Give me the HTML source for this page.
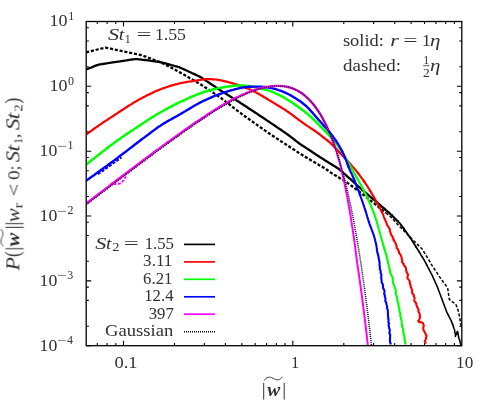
<!DOCTYPE html>
<html><head><meta charset="utf-8"><title>plot</title>
<style>html,body{margin:0;padding:0;background:#fff}svg{display:block}</style>
</head><body>
<svg width="494" height="402" viewBox="0 0 494 402">
<rect width="494" height="402" fill="#fff"/>
<defs><clipPath id="c"><rect x="86.2" y="21.5" width="375.6" height="324.7"/></clipPath></defs>
<g clip-path="url(#c)" fill="none" stroke-linejoin="round" stroke-linecap="butt">
<path d="M85.5,69.8 L85.8,69.7 L86.7,69.3 L87.9,68.8 L89.3,68.2 L91.0,67.6 L92.7,66.9 L94.3,66.2 L95.9,65.6 L97.2,65.1 L98.1,64.8 L98.6,64.6 L98.8,64.6 L99.2,64.5 L99.8,64.4 L100.5,64.3 L101.4,64.2 L102.5,64.0 L103.7,63.8 L105.0,63.6 L106.4,63.4 L107.9,63.2 L109.4,62.9 L111.1,62.7 L112.8,62.4 L114.5,62.1 L116.3,61.9 L118.0,61.6 L119.8,61.4 L121.5,61.1 L123.2,60.8 L124.8,60.6 L126.4,60.4 L127.9,60.1 L129.3,59.9 L130.7,59.7 L131.8,59.5 L132.9,59.4 L133.8,59.3 L134.6,59.2 L135.2,59.1 L135.6,59.0 L135.8,59.0 L136.1,59.0 L136.7,59.1 L137.6,59.2 L138.6,59.3 L139.9,59.4 L141.3,59.6 L142.9,59.8 L144.6,60.0 L146.3,60.2 L148.0,60.4 L149.8,60.7 L151.5,60.9 L153.1,61.1 L154.6,61.3 L156.1,61.5 L157.3,61.6 L158.4,61.8 L159.2,61.9 L159.7,62.0 L160.0,62.0 L160.3,62.1 L161.0,62.3 L162.0,62.5 L163.2,62.9 L164.7,63.2 L166.3,63.7 L168.0,64.1 L169.7,64.6 L171.5,65.1 L173.2,65.5 L174.7,66.0 L176.2,66.4 L177.4,66.7 L178.4,67.0 L179.1,67.2 L179.4,67.3 L179.7,67.4 L180.2,67.7 L181.0,68.0 L182.0,68.5 L183.2,69.0 L184.5,69.6 L186.0,70.3 L187.6,71.0 L189.1,71.7 L190.8,72.5 L192.3,73.2 L193.9,73.9 L195.4,74.6 L196.7,75.2 L197.9,75.8 L198.9,76.2 L199.7,76.6 L200.2,76.9 L200.5,77.0 L200.7,77.2 L201.3,77.5 L202.0,78.0 L202.9,78.6 L204.0,79.3 L205.2,80.2 L206.6,81.1 L208.0,82.0 L209.5,83.0 L210.9,84.0 L212.4,85.0 L213.8,85.9 L215.2,86.8 L216.4,87.6 L217.5,88.4 L218.4,89.0 L219.2,89.5 L219.7,89.8 L219.9,90.0 L220.1,90.2 L220.7,90.5 L221.4,91.0 L222.4,91.6 L223.5,92.3 L224.8,93.1 L226.2,93.9 L227.6,94.9 L229.2,95.8 L230.7,96.8 L232.2,97.7 L233.7,98.6 L235.1,99.5 L236.3,100.3 L237.5,101.0 L238.4,101.6 L239.2,102.1 L239.7,102.4 L240.0,102.6 L240.2,102.7 L240.6,103.0 L241.2,103.4 L242.0,103.9 L242.9,104.5 L244.0,105.2 L245.2,106.0 L246.5,106.8 L247.8,107.7 L249.2,108.7 L250.7,109.6 L252.1,110.6 L253.6,111.5 L255.1,112.5 L256.5,113.4 L257.8,114.3 L259.1,115.2 L260.3,115.9 L261.3,116.7 L262.3,117.3 L263.1,117.8 L263.7,118.2 L264.1,118.5 L264.3,118.6 L264.5,118.8 L265.0,119.1 L265.7,119.5 L266.5,120.1 L267.5,120.8 L268.7,121.6 L270.0,122.4 L271.3,123.4 L272.7,124.3 L274.2,125.3 L275.7,126.3 L277.2,127.4 L278.7,128.4 L280.1,129.3 L281.5,130.2 L282.7,131.1 L283.9,131.9 L284.9,132.5 L285.7,133.1 L286.4,133.6 L286.8,133.9 L287.0,134.0 L287.3,134.2 L288.0,134.7 L288.9,135.5 L290.1,136.3 L291.4,137.3 L292.8,138.4 L294.2,139.5 L295.6,140.6 L296.9,141.6 L298.1,142.5 L299.0,143.2 L299.7,143.7 L300.0,143.9 L300.2,144.1 L300.7,144.4 L301.4,144.9 L302.4,145.5 L303.5,146.2 L304.7,147.0 L306.0,147.9 L307.5,148.9 L308.9,149.8 L310.4,150.8 L311.9,151.8 L313.3,152.8 L314.6,153.6 L315.9,154.5 L317.0,155.2 L317.9,155.8 L318.7,156.3 L319.2,156.6 L319.4,156.8 L319.6,157.0 L320.2,157.3 L320.9,157.7 L321.8,158.3 L323.0,159.0 L324.2,159.8 L325.6,160.7 L327.0,161.5 L328.5,162.5 L330.0,163.4 L331.5,164.3 L332.9,165.2 L334.2,166.1 L335.5,166.8 L336.6,167.5 L337.5,168.1 L338.2,168.6 L338.7,168.9 L338.9,169.0 L339.3,169.3 L340.2,170.1 L341.3,171.1 L342.6,172.2 L343.8,173.3 L345.0,174.3 L345.8,175.0 L346.2,175.4 L346.4,175.6 L346.8,176.0 L347.5,176.6 L348.3,177.3 L349.3,178.2 L350.5,179.2 L351.7,180.3 L352.9,181.5 L354.2,182.7 L355.6,183.8 L356.8,185.0 L358.0,186.1 L359.2,187.1 L360.2,188.0 L361.0,188.8 L361.7,189.4 L362.2,189.8 L362.4,190.0 L362.6,190.2 L363.2,190.6 L363.9,191.3 L364.8,192.1 L365.9,193.0 L367.2,194.0 L368.5,195.1 L369.8,196.3 L371.2,197.5 L372.6,198.6 L373.9,199.7 L375.1,200.7 L376.2,201.7 L377.1,202.5 L377.9,203.1 L378.4,203.5 L378.6,203.7 L378.9,203.9 L379.4,204.4 L380.3,205.2 L381.3,206.1 L382.5,207.1 L383.8,208.2 L385.1,209.4 L386.4,210.5" stroke="#000" stroke-width="2.30"/>
<path d="M386.4,210.5 L387.7,211.7 L388.9,212.7 L389.9,213.6 L390.7,214.3 L391.3,214.8 L391.5,215.0 L391.8,215.3 L392.5,216.0" stroke="#000" stroke-width="2.24"/>
<path d="M391.3,214.8 L391.5,215.0 L391.8,215.3 L392.5,216.0 L393.5,217.0 L394.7,218.2 L396.0,219.5 L397.2,220.8 L398.4,221.9" stroke="#000" stroke-width="2.12"/>
<path d="M397.2,220.8 L398.4,221.9 L399.4,222.9 L400.1,223.7 L400.4,224.0 L400.6,224.3 L401.0,224.8 L401.6,225.6 L402.3,226.7 L403.2,227.9 L404.2,229.2" stroke="#000" stroke-width="2.01"/>
<path d="M403.2,227.9 L404.2,229.2 L405.2,230.6 L406.2,232.0 L407.2,233.4 L408.1,234.8 L409.0,236.0 L409.8,237.1 L410.4,237.9" stroke="#000" stroke-width="1.89"/>
<path d="M409.8,237.1 L410.4,237.9 L410.8,238.5 L411.0,238.8 L411.1,239.0 L411.5,239.5 L411.9,240.2 L412.5,241.2 L413.1,242.2 L413.9,243.5 L414.8,244.8 L415.6,246.3 L416.6,247.8" stroke="#000" stroke-width="1.77"/>
<path d="M415.6,246.3 L416.6,247.8 L417.5,249.3 L418.5,250.8 L419.4,252.3 L420.3,253.8 L421.1,255.1 L421.9,256.3 L422.6,257.4" stroke="#000" stroke-width="1.66"/>
<path d="M421.9,256.3 L422.6,257.4 L423.1,258.4 L423.6,259.1 L423.9,259.6 L424.0,259.8 L424.2,260.1 L424.5,260.8 L425.1,261.8 L425.7,263.0 L426.5,264.5 L427.3,266.0 L428.1,267.6 L428.9,269.1 L429.7,270.7 L430.5,272.1 L431.1,273.3 L431.6,274.2 L431.9,274.9 L432.1,275.2 L432.3,275.7 L432.8,276.7 L433.4,278.1 L434.2,279.8 L435.0,281.5 L435.7,283.1 L436.3,284.5 L436.8,285.5 L437.0,286.0 L437.1,286.4 L437.5,287.3 L438.0,288.5 L438.5,290.0 L439.2,291.7 L439.8,293.5 L440.5,295.1 L441.0,296.7 L441.5,297.9 L441.9,298.8 L442.0,299.2 L442.1,299.6 L442.5,300.5 L442.9,301.7 L443.5,303.2 L444.1,304.9 L444.7,306.6 L445.4,308.2 L445.9,309.7 L446.4,311.0 L446.7,311.8 L446.9,312.2 L447.0,312.6 L447.5,313.5 L448.2,314.8 L448.9,316.3 L449.8,317.9 L450.4,319.3 L451.2,320.6 L451.4,321.5 L451.7,321.9 L451.9,322.4 L452.2,323.6 L453.0,325.2 L453.4,326.9 L454.0,328.5 L454.5,329.7 L454.6,330.2 L454.7,330.9 L454.8,332.5 L455.5,334.3 L455.4,335.8 L455.4,336.4 L455.6,335.6 L456.5,333.9 L457.0,332.2 L457.4,331.4 L457.8,332.2 L458.1,334.1 L458.5,336.0 L458.7,337.0 L458.6,337.5 L459.1,338.8 L459.8,340.4 L460.1,342.2 L460.6,343.9 L461.0,345.1 L461.2,345.6" stroke="#000" stroke-width="1.60"/>
<path d="M86.1,52.3 L86.4,52.2 L87.0,52.1 L87.9,51.8 L89.2,51.5 L90.6,51.2 L92.2,50.8 L93.9,50.4 L95.6,50.0 L97.4,49.5 L99.1,49.1 L100.7,48.7 L102.2,48.4 L103.5,48.1 L104.5,47.9 L105.2,47.7 L105.6,47.7 L105.8,47.7 L106.2,47.8 L106.8,47.9 L107.6,48.1 L108.6,48.3 L109.7,48.5 L110.9,48.7 L112.2,49.0 L113.7,49.3 L115.2,49.6 L116.9,50.0 L118.5,50.3 L120.3,50.7 L122.0,51.0 L123.8,51.4 L125.6,51.8 L127.3,52.2 L129.0,52.5 L130.7,52.9 L132.3,53.2 L133.9,53.6 L135.3,53.9 L136.7,54.2 L137.9,54.4 L139.0,54.6 L140.0,54.9 L140.8,55.0 L141.4,55.2 L141.8,55.3 L142.0,55.3 L142.3,55.4 L143.0,55.6 L143.9,56.0 L145.0,56.4 L146.3,56.9 L147.8,57.5 L149.4,58.1 L151.0,58.7 L152.7,59.3 L154.4,60.0 L156.1,60.6 L157.6,61.2 L159.1,61.8 L160.4,62.3 L161.5,62.7 L162.3,63.1 L162.9,63.3 L163.2,63.4 L163.5,63.6 L164.1,63.9 L165.1,64.4 L166.2,65.0 L167.5,65.7 L169.0,66.5 L170.5,67.3 L172.1,68.1 L173.6,69.0 L175.1,69.8 L176.4,70.5 L177.5,71.1 L178.5,71.6 L179.1,71.9 L179.4,72.1 L179.6,72.2 L180.1,72.5 L180.8,72.9 L181.8,73.5 L182.9,74.1 L184.1,74.8 L185.5,75.6 L186.9,76.4 L188.4,77.3 L189.9,78.2 L191.5,79.1 L193.0,79.9 L194.4,80.8 L195.8,81.5 L197.0,82.3 L198.1,82.9 L199.0,83.4 L199.8,83.9 L200.3,84.2 L200.5,84.3 L200.7,84.5 L201.3,84.8 L202.0,85.3 L202.9,85.9 L204.0,86.6 L205.2,87.4 L206.6,88.3 L208.0,89.3 L209.5,90.2 L210.9,91.2 L212.4,92.2 L213.8,93.1 L215.2,94.0 L216.4,94.9 L217.5,95.6 L218.4,96.2 L219.2,96.7 L219.7,97.0 L219.9,97.2 L220.1,97.4 L220.6,97.7 L221.2,98.2 L222.0,98.8 L223.0,99.6 L224.1,100.4 L225.3,101.3 L226.6,102.3 L227.9,103.4 L229.3,104.4 L230.7,105.5 L232.0,106.6 L233.4,107.6 L234.7,108.6 L235.9,109.5 L237.0,110.4 L237.9,111.1 L238.7,111.7 L239.4,112.2 L239.8,112.5 L240.0,112.7 L240.3,112.9 L240.8,113.3 L241.7,113.9 L242.7,114.7 L243.9,115.5 L245.3,116.5 L246.7,117.5 L248.1,118.5 L249.6,119.6 L251.0,120.6 L252.3,121.5 L253.5,122.4 L254.6,123.1 L255.4,123.7 L255.9,124.1 L256.2,124.3 L256.5,124.5 L257.1,124.9 L257.9,125.5 L259.0,126.3 L260.3,127.2 L261.6,128.1 L263.0,129.1 L264.4,130.1 L265.8,131.0 L267.0,131.9 L268.1,132.7 L269.0,133.3 L269.7,133.8 L270.0,134.0 L270.2,134.1 L270.5,134.3 L271.1,134.7 L271.7,135.1 L272.6,135.7 L273.5,136.3 L274.6,137.0 L275.8,137.8 L277.0,138.6 L278.4,139.5 L279.8,140.4 L281.2,141.4 L282.7,142.3 L284.2,143.3 L285.7,144.3 L287.2,145.3 L288.7,146.2 L290.2,147.2 L291.6,148.1 L292.9,149.0 L294.2,149.8 L295.4,150.6 L296.5,151.3 L297.4,151.9 L298.2,152.5 L298.9,152.9 L299.5,153.3 L299.8,153.5 L300.0,153.6 L300.3,153.8 L301.0,154.2 L301.9,154.8 L303.1,155.5 L304.4,156.3 L305.9,157.2 L307.4,158.1 L309.0,159.0 L310.5,159.9 L312.0,160.8 L313.3,161.6 L314.4,162.2 L315.3,162.8 L315.9,163.1 L316.2,163.3 L316.6,163.6 L317.6,164.1 L318.9,164.9 L320.3,165.7 L321.9,166.6 L323.4,167.5 L324.6,168.3 L325.5,168.8 L325.9,169.0 L326.6,169.5 L327.9,170.5 L329.2,171.5 L330.0,172.1 L330.3,172.3 L330.9,172.6 L331.8,173.2 L332.9,173.9 L334.2,174.7 L335.7,175.5 L337.2,176.5 L338.8,177.4 L340.4,178.4 L341.8,179.2 L343.2,180.1 L344.3,180.8 L345.3,181.3 L345.9,181.7 L346.2,181.9 L346.5,182.1 L347.0,182.5 L347.8,183.1 L348.9,183.9 L350.1,184.8 L351.4,185.8 L352.8,186.8 L354.3,187.9 L355.8,189.0 L357.2,190.1 L358.5,191.1 L359.7,192.0 L360.8,192.8 L361.6,193.4 L362.1,193.8 L362.4,194.0 L362.6,194.2 L363.2,194.6 L363.9,195.2 L364.8,195.9 L365.9,196.8 L367.2,197.8 L368.5,198.9 L369.8,200.0 L371.2,201.1 L372.6,202.2 L373.9,203.2 L375.1,204.2 L376.2,205.1 L377.1,205.8 L377.9,206.4 L378.4,206.8 L378.6,207.0 L378.9,207.2 L379.6,207.8 L380.5,208.5 L381.7,209.5 L383.0,210.6 L384.4,211.7 L385.8,212.9" stroke="#000" stroke-width="2.30" stroke-dasharray="3.1,1.8"/>
<path d="M385.8,212.9 L387.2,214.0 L388.5,215.1 L389.7,216.0 L390.6,216.8 L391.2,217.3 L391.5,217.5 L391.9,217.9 L392.7,218.9 L393.8,220.1 L394.9,221.4 L396.0,222.6 L396.8,223.6 L397.2,224.0 L397.4,224.2 L397.9,224.7 L398.6,225.4 L399.5,226.4 L400.6,227.4 L401.7,228.6 L402.9,229.8 L404.2,231.1 L405.4,232.3 L406.6,233.5 L407.6,234.6 L408.5,235.5 L409.3,236.3 L409.8,236.8 L410.0,237.0 L410.3,237.3 L410.8,237.8 L411.6,238.6 L412.6,239.5 L413.7,240.7 L414.9,241.9 L416.2,243.1 L417.5,244.4 L418.7,245.6 L419.9,246.7 L420.8,247.7 L421.6,248.5 L422.2,249.0 L422.4,249.3 L422.6,249.6 L423.0,250.2 L423.5,251.1 L424.2,252.3 L425.0,253.6 L425.9,255.1 L426.8,256.6 L427.7,258.2 L428.7,259.7 L429.5,261.2 L430.3,262.5 L431.0,263.7 L431.5,264.6 L431.9,265.2 L432.1,265.5 L432.3,265.8 L432.7,266.4 L433.3,267.4 L434.1,268.5 L435.0,269.9 L436.0,271.3 L437.0,272.8 L438.0,274.3 L438.9,275.7 L439.8,277.1 L440.6,278.2 L441.2,279.1 L441.6,279.7 L441.8,280.0 L442.1,280.4 L442.8,281.3 L443.7,282.6 L444.8,284.0 L445.8,285.4 L446.7,286.6 L447.3,287.5 L447.6,287.9 L447.7,288.4 L447.9,289.4 L448.1,290.9 L448.3,292.7 L448.6,294.5 L448.9,296.2 L449.1,297.7 L449.2,298.8 L449.3,299.2 L450.5,300.5 L451.7,301.6 L452.8,302.2 L454.6,303.3 L455.7,304.0 L456.0,304.7 L456.6,306.3 L457.3,308.2 L457.9,309.7 L458.2,310.5 L458.3,311.1 L458.6,312.4 L459.0,314.2 L459.4,315.9 L459.7,317.2 L459.8,317.8 L459.9,318.8 L460.2,320.7 L460.5,322.6 L460.6,323.5 L460.9,324.5 L461.5,326.1 L461.8,327.0" stroke="#000" stroke-width="1.50" stroke-dasharray="3.1,1.8"/>
<path d="M86.1,134.6 L86.7,134.2 L87.4,133.7 L88.2,133.1 L89.1,132.4 L90.0,131.7 L91.1,131.0 L92.2,130.2 L93.3,129.3 L94.5,128.5 L95.6,127.7 L96.8,126.9 L97.9,126.1 L99.0,125.3 L100.0,124.6 L101.1,123.9 L102.2,123.1 L103.4,122.3 L104.5,121.6 L105.7,120.8 L106.9,120.1 L108.0,119.3 L109.1,118.6 L110.2,117.9 L111.2,117.2 L112.2,116.6 L113.1,116.0 L113.9,115.5 L115.2,114.6 L116.1,114.0 L116.7,113.6 L117.5,113.1 L118.5,112.4 L120.2,111.3 L120.9,110.8 L121.7,110.3 L122.6,109.8 L123.5,109.2 L124.5,108.5 L125.5,107.9 L126.5,107.2 L127.6,106.5 L128.7,105.8 L129.8,105.1 L131.0,104.4 L132.1,103.7 L133.3,102.9 L134.4,102.2 L135.6,101.5 L136.7,100.9 L137.9,100.2 L139.0,99.6 L140.1,99.0 L141.1,98.4 L142.2,97.9 L143.3,97.3 L144.4,96.7 L145.5,96.2 L146.6,95.6 L147.8,95.0 L148.9,94.5 L150.0,93.9 L151.2,93.4 L152.3,92.9 L153.4,92.3 L154.5,91.8 L155.6,91.3 L156.8,90.8 L157.8,90.4 L158.9,89.9 L160.0,89.5 L161.3,89.0 L162.5,88.5 L163.7,88.1 L164.9,87.7 L166.1,87.2 L167.3,86.8 L168.5,86.5 L169.7,86.1 L170.9,85.7 L172.1,85.4 L173.3,85.1 L174.5,84.7 L175.7,84.4 L176.9,84.1 L178.1,83.8 L179.4,83.5 L180.6,83.2 L181.9,82.9 L183.2,82.7 L184.6,82.4 L185.9,82.2 L187.3,81.9 L188.7,81.7 L190.1,81.5 L191.4,81.3 L192.8,81.1 L194.1,80.9 L195.3,80.7 L196.5,80.5 L197.6,80.3 L198.7,80.2 L199.6,80.0 L200.5,79.9 L202.6,79.5 L203.8,79.3 L204.6,79.1 L205.5,79.1 L207.0,79.1 L208.0,79.1 L209.1,79.1 L210.2,79.2 L211.4,79.2 L212.6,79.3 L213.9,79.4 L215.3,79.5 L216.8,79.7 L218.3,79.9 L219.9,80.2 L220.9,80.4 L222.0,80.6 L223.1,80.9 L224.2,81.1 L225.4,81.4 L226.6,81.7 L227.9,82.0 L229.1,82.4 L230.4,82.7 L231.6,83.0 L232.9,83.4 L234.2,83.8 L235.4,84.1 L236.6,84.5 L237.8,84.9 L238.9,85.2 L240.0,85.6 L241.3,86.0 L242.5,86.5 L243.7,86.9 L244.9,87.4 L246.1,87.9 L247.2,88.4 L248.3,88.8 L249.5,89.3 L250.6,89.8 L251.7,90.4 L252.8,90.9 L253.9,91.5 L255.1,92.0 L256.2,92.6 L257.3,93.2 L258.4,93.8 L259.6,94.4 L260.7,95.1 L261.9,95.8 L263.1,96.5 L264.3,97.2 L265.4,97.8 L266.5,98.5 L267.6,99.2 L268.7,99.9 L269.7,100.5 L270.7,101.1 L271.6,101.6 L272.4,102.1 L273.9,103.0 L275.2,103.7 L276.2,104.4 L277.1,104.9 L278.0,105.5 L278.9,106.0 L280.0,106.7 L281.0,107.3 L281.9,107.9 L282.8,108.4 L283.8,109.0 L284.8,109.7 L285.9,110.4 L287.1,111.3 L288.6,112.3 L289.4,112.9 L290.3,113.5 L291.3,114.2 L292.3,114.9 L293.3,115.7 L294.4,116.5 L295.5,117.3 L296.6,118.1 L297.7,119.0 L298.8,119.8 L299.9,120.6 L301.0,121.4 L302.0,122.1 L303.0,122.9 L304.0,123.6 L304.9,124.2 L306.1,125.1 L307.3,125.9 L308.5,126.6 L309.6,127.4 L310.6,128.1 L311.6,128.8 L312.6,129.4 L313.6,130.0 L314.5,130.6 L315.4,131.2 L316.2,131.8 L317.4,132.7 L318.5,133.5 L319.4,134.2 L320.3,134.9 L321.2,135.6 L322.1,136.3 L323.0,137.0 L324.0,137.8 L325.0,138.5 L325.9,139.3 L326.9,140.0 L327.9,140.8 L328.9,141.6 L329.8,142.4 L330.7,143.2 L331.6,144.1 L332.5,145.0 L333.4,145.9 L334.3,146.8" stroke="#ff0000" stroke-width="2.25"/>
<path d="M333.4,145.9 L334.3,146.8 L335.1,147.7 L336.0,148.6 L336.9,149.5 L337.7,150.5 L338.6,151.4 L339.5,152.4 L340.3,153.4" stroke="#ff0000" stroke-width="2.24"/>
<path d="M339.5,152.4 L340.3,153.4 L341.2,154.3 L342.1,155.3 L343.0,156.2 L343.9,157.2 L344.8,158.1 L345.8,159.0 L346.7,160.0" stroke="#ff0000" stroke-width="2.21"/>
<path d="M345.8,159.0 L346.7,160.0 L347.6,161.0 L348.6,162.0 L349.4,162.9 L350.3,163.9 L351.2,164.9 L352.0,165.9" stroke="#ff0000" stroke-width="2.19"/>
<path d="M352.0,165.9 L352.9,166.9 L353.8,167.9 L354.6,168.9 L355.5,170.0 L356.3,171.0 L357.1,172.0 L357.9,173.0 L358.7,174.0" stroke="#ff0000" stroke-width="2.16"/>
<path d="M357.9,173.0 L358.7,174.0 L359.5,175.0 L360.2,176.1 L361.0,177.1 L361.7,178.1 L362.4,179.0 L363.2,180.2 L364.0,181.3 L364.7,182.3" stroke="#ff0000" stroke-width="2.14"/>
<path d="M363.2,180.2 L364.0,181.3 L364.7,182.3 L365.4,183.4 L366.1,184.4 L366.8,185.4 L367.5,186.5 L368.2,187.6 L368.8,188.6 L369.5,189.7 L370.1,190.7 L370.8,191.8" stroke="#ff0000" stroke-width="2.11"/>
<path d="M369.5,189.7 L370.1,190.7 L370.8,191.8 L371.4,192.9 L372.1,194.0 L372.7,195.0 L373.3,196.1 L373.9,197.1 L374.5,198.2 L375.2,199.3 L375.8,200.4 L376.4,201.5 L377.0,202.6 L377.6,203.7 L378.2,204.9 L378.8,206.0 L379.4,207.1 L380.0,208.3 L380.6,209.5 L381.2,210.7 L381.8,211.9 L382.4,213.0 L382.8,214.0 L383.3,215.0 L383.6,216.0 L383.9,217.1 L384.4,218.2 L385.1,219.4 L385.4,220.7 L386.3,222.2 L386.6,223.2 L386.9,224.2 L387.2,225.3 L388.2,226.5 L388.9,227.7 L389.6,228.9 L390.0,230.2 L390.0,231.5 L390.5,232.7 L391.1,234.0 L391.3,235.2 L392.5,236.3 L392.7,237.4 L392.8,238.5 L393.8,239.4 L393.8,240.8 L395.1,242.1 L395.5,243.2 L396.0,244.2 L396.2,245.2 L396.7,246.2 L396.7,247.2 L396.7,248.2 L398.1,249.3 L398.2,250.5 L399.1,251.7 L399.0,253.0 L400.2,254.3 L400.9,255.5 L401.3,256.8 L401.7,258.1 L401.8,259.3 L402.3,260.5 L402.0,261.8 L402.7,263.0 L403.8,264.2 L403.8,265.3 L405.0,266.5 L405.9,267.7 L406.0,268.9 L406.2,270.3 L406.5,271.5 L406.8,272.8 L407.9,274.1 L407.9,275.5 L407.5,277.0 L407.5,278.3 L408.6,279.7 L409.6,280.9 L409.7,282.0 L409.8,283.0 L410.2,284.7 L410.8,285.6 L410.6,286.5 L411.3,287.9 L411.6,288.9 L412.1,290.0 L412.0,291.2 L412.1,292.4 L412.6,293.8 L413.9,295.1 L414.0,296.4 L414.5,297.6 L414.5,298.8 L414.4,300.0 L414.4,301.2 L415.6,302.4 L416.3,303.6 L416.3,304.8 L416.9,306.0 L417.3,307.3 L418.0,308.6 L418.6,310.0 L418.4,311.5 L419.2,312.9 L419.8,314.3 L419.7,315.6 L420.1,316.8 L419.8,317.8 L419.2,319.8 L418.2,321.0 L418.9,321.9 L419.3,322.2 L420.4,322.1 L422.5,322.7 L423.3,323.6 L423.4,324.7 L423.9,326.1 L423.2,327.5 L423.3,328.8 L423.5,330.0 L424.4,331.5 L425.1,332.9 L425.6,334.1 L426.2,335.1 L426.5,336.1 L426.2,337.3 L426.0,338.4 L425.5,339.9 L424.9,341.4 L425.6,342.8 L425.3,343.7" stroke="#ff0000" stroke-width="2.10"/>
<path d="M85.5,165.2 L86.0,164.8 L86.6,164.4 L87.2,163.9 L87.9,163.3 L88.6,162.8 L89.3,162.1 L90.1,161.5 L91.0,160.8 L91.9,160.1 L92.8,159.4 L93.8,158.6 L94.7,157.8 L95.8,157.0 L96.8,156.2 L97.8,155.4 L98.9,154.5 L100.0,153.7 L101.1,152.8 L102.2,151.9 L103.3,151.1 L104.4,150.2 L105.5,149.4 L106.6,148.5 L107.7,147.7 L108.8,146.8 L109.8,146.0 L110.9,145.2 L111.9,144.5 L112.9,143.7 L113.9,143.0 L114.9,142.3 L115.9,141.6 L116.9,140.9 L117.9,140.1 L118.9,139.4 L120.0,138.7 L121.0,137.9 L122.1,137.2 L123.2,136.5 L124.2,135.7 L125.3,135.0 L126.4,134.3 L127.4,133.6 L128.5,132.9 L129.6,132.1 L130.6,131.4 L131.7,130.8 L132.7,130.1 L133.7,129.4 L134.7,128.7 L135.7,128.1 L136.7,127.4 L137.6,126.8 L138.6,126.2 L139.5,125.6 L140.4,125.0 L141.3,124.4 L142.1,123.9 L142.9,123.3 L143.7,122.8 L145.1,121.9 L146.4,121.0 L147.5,120.3 L148.7,119.5 L149.7,118.9 L150.7,118.2 L151.6,117.6 L152.5,117.1 L153.4,116.5 L154.3,116.0 L155.1,115.5 L156.0,114.9 L156.9,114.4 L157.9,113.8 L158.9,113.2 L160.0,112.6 L161.0,112.0 L162.0,111.5 L163.0,110.9 L164.1,110.3 L165.1,109.7 L166.2,109.2 L167.2,108.6 L168.3,108.0 L169.4,107.4 L170.5,106.9 L171.6,106.3 L172.7,105.7 L173.8,105.2 L174.9,104.6 L176.0,104.0 L177.2,103.5 L178.3,102.9 L179.4,102.4 L180.5,101.9 L181.6,101.4 L182.7,100.9 L183.8,100.3 L184.9,99.8 L186.0,99.3 L187.1,98.8 L188.3,98.3 L189.4,97.7 L190.5,97.2 L191.6,96.7 L192.8,96.3 L193.9,95.8 L195.0,95.3 L196.1,94.9 L197.2,94.4 L198.3,94.0 L199.4,93.6 L200.5,93.2 L201.8,92.8 L203.0,92.3 L204.2,91.9 L205.5,91.5 L206.7,91.2 L207.9,90.8 L209.1,90.5 L210.3,90.1 L211.5,89.8 L212.6,89.5 L213.8,89.2 L215.0,88.9 L216.2,88.7 L217.5,88.4 L218.7,88.1 L219.9,87.9 L221.1,87.7 L222.4,87.4 L223.7,87.2 L225.0,87.0 L226.3,86.8 L227.6,86.6 L228.9,86.4 L230.1,86.2 L231.4,86.1 L232.7,86.0 L234.0,85.8 L235.2,85.7 L236.5,85.6 L237.7,85.6 L238.8,85.5 L240.0,85.5 L241.4,85.5 L242.7,85.5 L244.0,85.6 L245.3,85.7 L246.5,85.8 L247.7,86.0 L248.9,86.2 L250.1,86.4 L251.3,86.6 L252.5,86.8 L253.7,87.0 L255.0,87.3 L256.2,87.5 L257.4,87.7 L258.7,88.0 L259.9,88.3 L261.2,88.5 L262.4,88.8 L263.7,89.1 L264.9,89.5 L266.2,89.8 L267.4,90.2 L268.7,90.6 L269.9,91.0 L271.2,91.4 L272.4,91.9 L273.5,92.3 L274.6,92.8 L275.6,93.3 L276.7,93.8 L277.8,94.3 L278.9,94.8 L280.0,95.4 L281.0,95.9 L282.1,96.5 L283.2,97.1 L284.3,97.7 L285.4,98.4 L286.4,99.0 L287.5,99.6 L288.6,100.3 L289.6,100.9 L290.7,101.6 L291.7,102.3 L292.8,103.0 L293.8,103.7 L294.9,104.4 L295.9,105.2 L297.0,105.9 L298.0,106.7 L299.1,107.4 L300.1,108.2 L301.1,108.9 L302.1,109.7 L303.0,110.4 L303.9,111.1 L304.8,111.8 L305.9,112.7 L306.9,113.5 L307.9,114.3 L308.8,115.0 L309.6,115.8 L310.5,116.6 L311.4,117.3 L312.2,118.1 L313.1,119.0 L314.1,119.9 L315.1,120.9 L316.2,122.0 L316.9,122.7 L317.7,123.5 L318.6,124.3 L319.4,125.2 L320.3,126.1 L321.2,127.0 L322.1,127.9 L323.0,128.9 L323.9,129.8 L324.9,130.8 L325.8,131.8 L326.7,132.7 L327.6,133.7" stroke="#00ff00" stroke-width="2.50"/>
<path d="M326.7,132.7 L327.6,133.7 L328.5,134.6 L329.3,135.6 L330.2,136.5 L330.9,137.3 L331.7,138.2 L332.4,139.0 L333.4,140.1" stroke="#00ff00" stroke-width="2.47"/>
<path d="M332.4,139.0 L333.4,140.1 L334.3,141.2 L335.1,142.2 L335.9,143.2 L336.6,144.1 L337.3,145.0 L338.0,146.0 L338.7,146.9 L339.3,147.8" stroke="#00ff00" stroke-width="2.40"/>
<path d="M338.7,146.9 L339.3,147.8 L340.0,148.8 L340.7,149.8 L341.4,150.9 L342.1,152.0 L342.7,153.0 L343.4,154.0 L344.0,155.1 L344.7,156.2 L345.3,157.3" stroke="#00ff00" stroke-width="2.33"/>
<path d="M344.7,156.2 L345.3,157.3 L346.0,158.5 L346.6,159.7 L347.3,160.9 L347.9,162.0 L348.6,163.2 L349.2,164.3 L349.8,165.3 L350.3,166.4 L350.9,167.3 L351.3,168.2 L351.8,169.0" stroke="#00ff00" stroke-width="2.27"/>
<path d="M350.3,166.4 L350.9,167.3 L351.3,168.2 L351.8,169.0 L352.8,170.7 L353.4,171.8 L353.9,172.7 L354.4,173.5 L355.0,174.6 L355.9,176.2 L356.4,177.0 L356.9,177.9 L357.4,178.9" stroke="#00ff00" stroke-width="2.20"/>
<path d="M356.4,177.0 L356.9,177.9 L357.4,178.9 L358.0,179.9 L358.6,180.9 L359.2,182.0 L359.8,183.2 L360.5,184.3 L361.1,185.5 L361.8,186.7 L362.4,187.8 L363.0,189.0 L363.7,190.2" stroke="#00ff00" stroke-width="2.13"/>
<path d="M362.4,187.8 L363.0,189.0 L363.7,190.2 L364.2,191.3 L364.8,192.4 L365.4,193.6 L366.0,194.7 L366.5,195.9 L367.1,197.1 L367.6,198.3 L368.2,199.5 L368.7,200.7 L369.3,201.9 L369.8,203.1 L370.3,204.2 L370.8,205.4 L371.2,206.5 L371.7,207.6 L372.1,208.6 L372.6,209.9 L373.1,211.1 L373.6,212.3 L374.0,213.3 L374.4,214.4 L374.7,215.4 L375.1,216.6 L375.5,217.9 L376.0,219.3 L376.5,221.0 L376.8,221.9 L377.1,222.9 L377.4,223.9 L377.7,225.0 L378.0,226.1 L378.3,227.3 L378.7,228.5 L379.0,229.7 L379.3,231.0 L379.7,232.2 L380.0,233.5 L380.4,234.7 L380.7,236.0 L381.1,237.3 L381.4,238.5 L381.8,239.7 L382.0,240.9 L382.5,242.1 L382.7,243.2 L383.1,244.3 L383.5,245.6 L383.9,246.9 L384.2,248.2 L384.5,249.4 L384.9,250.6 L385.3,251.8 L385.8,253.0 L386.0,254.2 L386.6,255.4 L386.5,256.5 L387.1,257.7 L387.3,258.9 L387.4,260.1 L388.0,261.3 L388.0,262.5 L388.3,263.7 L388.7,264.9 L388.9,266.0 L389.1,267.2 L389.2,268.4 L390.1,269.6 L390.1,270.8 L390.2,272.0 L390.3,273.2 L391.3,274.4 L391.6,275.6 L392.2,276.8 L392.8,278.0 L392.8,279.2 L392.8,280.4 L392.9,281.6 L393.0,282.8 L393.4,284.0 L394.2,285.2 L394.3,286.4 L394.7,287.5 L395.3,288.7 L395.6,289.9 L395.8,291.0 L395.9,292.2 L395.6,293.4 L395.9,294.5 L396.6,295.7 L396.7,296.9 L397.2,298.0 L397.1,299.2 L397.5,300.4 L397.5,301.6 L398.2,302.8 L398.7,304.0 L398.3,305.2 L398.8,306.4 L398.7,307.7 L399.5,308.9 L399.4,310.2 L399.3,311.4 L400.2,312.7 L400.5,314.0 L400.1,315.2 L400.5,316.5 L401.2,317.7 L401.0,319.0 L401.6,320.2 L401.5,321.5 L401.7,322.7 L401.9,323.9 L401.8,325.1 L402.1,326.4 L402.6,327.7 L403.0,329.1 L403.3,330.5 L403.2,331.9 L403.7,333.4 L403.7,334.7 L404.5,336.1 L404.2,337.4 L404.8,338.7 L404.5,339.9 L404.9,341.1 L405.0,342.1 L405.2,343.0 L405.6,343.8 L406.0,344.5" stroke="#00ff00" stroke-width="2.10"/>
<path d="M85.5,181.2 L86.1,180.8 L86.8,180.2 L87.7,179.6 L88.6,179.0 L89.6,178.2 L90.7,177.4 L91.9,176.6 L93.1,175.7 L94.3,174.9 L95.5,174.0 L96.7,173.1 L97.8,172.3 L98.9,171.5 L100.0,170.7 L101.0,170.0 L102.0,169.3 L102.9,168.6 L103.9,167.9 L104.8,167.2 L105.8,166.6 L106.7,165.9 L107.7,165.2 L108.6,164.5 L109.6,163.8 L110.6,163.0 L111.7,162.2 L112.8,161.4 L113.9,160.6 L114.8,159.9 L115.7,159.3 L116.6,158.6 L117.6,157.8 L118.5,157.1 L119.5,156.3 L120.5,155.6 L121.5,154.8 L122.6,154.0 L123.6,153.2 L124.6,152.4 L125.7,151.7 L126.7,150.9 L127.7,150.1 L128.7,149.4 L129.6,148.6 L130.6,147.9 L131.5,147.2 L132.4,146.5 L133.5,145.7 L134.6,144.8 L135.6,144.1 L136.6,143.3 L137.6,142.5 L138.6,141.7 L139.6,141.0 L140.6,140.3 L141.5,139.5 L142.5,138.8 L143.4,138.1 L144.4,137.4 L145.3,136.7 L146.3,135.9 L147.3,135.2 L148.3,134.5 L149.3,133.7 L150.2,133.0 L151.2,132.3 L152.2,131.6 L153.1,130.9 L154.1,130.1 L155.1,129.4 L156.0,128.7 L157.0,128.0 L158.0,127.3 L159.0,126.6 L160.1,125.9 L161.1,125.2 L162.2,124.5 L163.2,123.9 L164.1,123.3 L165.1,122.7 L166.1,122.1 L167.1,121.5 L168.2,120.9 L169.2,120.3 L170.2,119.8 L171.3,119.2 L172.3,118.6 L173.4,118.0 L174.5,117.4 L175.6,116.8 L176.7,116.2 L177.8,115.6 L178.9,114.9 L180.0,114.3 L181.0,113.7 L182.0,113.1 L183.1,112.5 L184.2,111.8 L185.2,111.2 L186.3,110.5 L187.4,109.9 L188.5,109.2 L189.6,108.6 L190.7,107.9 L191.8,107.3 L192.9,106.6 L194.0,106.0 L195.1,105.3 L196.2,104.7 L197.3,104.1 L198.4,103.5 L199.4,102.9 L200.5,102.4 L201.7,101.8 L202.8,101.2 L204.0,100.7 L205.1,100.1 L206.3,99.6 L207.4,99.1 L208.5,98.6 L209.7,98.1 L210.8,97.6 L211.9,97.1 L213.0,96.6 L214.2,96.2 L215.3,95.7 L216.4,95.3 L217.6,94.9 L218.7,94.4 L219.9,94.0 L221.1,93.6 L222.3,93.2 L223.5,92.8 L224.7,92.3 L225.9,91.9 L227.1,91.6 L228.3,91.2 L229.5,90.8 L230.8,90.4 L232.0,90.1 L233.2,89.8 L234.4,89.4 L235.5,89.1 L236.7,88.8 L237.8,88.6 L238.9,88.3 L240.0,88.1 L241.4,87.8 L242.7,87.6 L244.0,87.4 L245.3,87.2 L246.5,87.1 L247.7,86.9 L248.9,86.8 L250.1,86.7 L251.3,86.7 L252.5,86.6 L253.7,86.6 L255.0,86.6 L256.2,86.6 L257.4,86.6 L258.7,86.6 L259.9,86.7 L261.2,86.7 L262.4,86.8 L263.7,86.9 L264.9,87.0 L266.2,87.2 L267.4,87.4 L268.7,87.5 L269.9,87.8 L271.2,88.0 L272.4,88.3 L273.6,88.6 L274.7,88.9 L275.9,89.2 L277.0,89.6 L278.2,89.9 L279.3,90.3 L280.5,90.7 L281.7,91.2 L282.8,91.6 L284.0,92.1 L285.1,92.6 L286.3,93.2 L287.4,93.7 L288.6,94.3 L289.6,94.8 L290.7,95.4 L291.7,96.0 L292.8,96.6 L293.8,97.2 L294.9,97.9 L295.9,98.5 L297.0,99.2 L298.0,99.9 L299.1,100.6 L300.1,101.3 L301.1,102.0 L302.1,102.7 L303.0,103.5 L303.9,104.2 L304.8,104.9 L305.8,105.8 L306.8,106.6 L307.7,107.5 L308.5,108.3 L309.3,109.2 L310.1,110.1 L310.9,110.9 L311.7,111.9 L312.5,112.8 L313.3,113.8 L314.2,114.8 L315.2,115.9 L316.2,117.1 L316.9,117.9 L317.7,118.7 L318.4,119.6 L319.2,120.5 L320.1,121.4 L320.9,122.3 L321.8,123.3 L322.6,124.3 L323.5,125.3 L324.4,126.2" stroke="#0000ff" stroke-width="2.40"/>
<path d="M323.5,125.3 L324.4,126.2 L325.3,127.2 L326.2,128.2 L327.0,129.2 L327.9,130.2 L328.7,131.2 L329.5,132.2 L330.3,133.1" stroke="#0000ff" stroke-width="2.38"/>
<path d="M329.5,132.2 L330.3,133.1 L331.0,134.0 L331.7,134.9 L332.4,135.8 L333.2,136.9 L334.0,138.0 L334.8,139.1 L335.5,140.1 L336.2,141.1" stroke="#0000ff" stroke-width="2.33"/>
<path d="M335.5,140.1 L336.2,141.1 L336.9,142.1 L337.5,143.1 L338.1,144.0 L338.7,145.0 L339.3,146.0 L339.9,147.0 L340.4,148.0 L341.0,149.1 L341.5,150.1 L342.1,151.2 L342.6,152.3" stroke="#0000ff" stroke-width="2.27"/>
<path d="M341.5,150.1 L342.1,151.2 L342.6,152.3 L343.2,153.4 L343.7,154.5 L344.2,155.7 L344.7,156.9 L345.2,158.2 L345.7,159.4 L346.2,160.6 L346.6,161.8 L347.1,163.0 L347.5,164.1 L347.9,165.2 L348.3,166.3 L348.7,167.3" stroke="#0000ff" stroke-width="2.23"/>
<path d="M347.5,164.1 L347.9,165.2 L348.3,166.3 L348.7,167.3 L349.1,168.2 L349.4,169.0 L350.1,170.7 L350.7,171.9 L351.1,172.7 L351.5,173.5 L352.0,174.6 L352.7,176.2 L353.1,177.1 L353.5,178.0 L353.9,179.1 L354.3,180.2 L354.8,181.3" stroke="#0000ff" stroke-width="2.17"/>
<path d="M353.5,178.0 L353.9,179.1 L354.3,180.2 L354.8,181.3 L355.3,182.5 L355.8,183.7 L356.2,185.0 L356.7,186.2 L357.2,187.5 L357.7,188.8 L358.2,190.0 L358.7,191.2 L359.1,192.4 L359.5,193.6 L360.0,194.7 L360.4,195.9" stroke="#0000ff" stroke-width="2.12"/>
<path d="M359.5,193.6 L360.0,194.7 L360.4,195.9 L360.8,197.1 L361.3,198.3 L361.7,199.5 L362.1,200.7 L362.5,201.9 L362.9,203.0 L363.3,204.2 L363.7,205.3 L364.1,206.4 L364.4,207.5 L364.8,208.6 L365.2,209.9 L365.6,211.2 L366.0,212.3 L366.3,213.5 L366.7,214.7 L367.0,215.8 L367.3,217.0 L367.7,218.1 L368.1,219.4 L368.5,220.6 L368.9,222.0 L369.3,223.0 L369.6,224.1 L370.0,225.2 L370.4,226.3 L370.9,227.4 L371.3,228.5 L371.7,229.6 L372.2,230.8 L372.6,232.0 L373.0,233.2 L373.5,234.4 L373.9,235.6 L374.3,236.9 L374.6,238.1 L375.0,239.4 L375.2,240.5 L375.5,241.7 L375.8,242.9 L376.0,244.1 L376.3,245.3 L376.6,246.5 L376.7,247.7 L376.9,249.0 L377.0,250.2 L377.2,251.5 L377.4,252.8 L378.0,254.0 L378.1,255.3 L378.6,256.6 L378.5,257.9 L379.0,259.2 L379.1,260.5 L379.4,261.7 L379.6,262.8 L379.5,264.0 L379.5,265.2 L379.9,266.4 L379.8,267.6 L379.7,268.8 L380.4,270.0 L380.7,271.2 L380.6,272.4 L380.9,273.7 L381.5,274.9 L381.3,276.1 L381.1,277.3 L381.4,278.6 L381.4,279.8 L381.7,281.0 L381.6,282.3 L382.4,283.5 L382.9,284.7 L382.9,285.9 L383.0,287.0 L383.1,288.2 L383.9,289.4 L384.4,290.6 L384.5,291.8 L384.3,293.0 L384.2,294.2 L384.9,295.4 L384.8,296.6 L385.3,297.8 L385.5,299.0 L385.3,300.2 L385.4,301.4 L386.3,302.6 L386.3,303.8 L386.7,305.0 L387.1,306.1 L387.1,307.3 L387.2,308.5 L387.7,309.8 L387.9,311.0 L387.9,312.3 L388.0,313.6 L388.0,314.8 L388.0,316.1 L388.3,317.4 L388.1,318.6 L388.7,319.9 L388.5,321.1 L388.4,322.3 L389.1,323.5 L388.6,324.6 L388.7,325.8 L389.0,326.9 L389.1,328.0 L389.6,329.0 L389.7,330.0 L389.7,331.5 L389.3,333.1 L390.2,334.5 L390.1,336.0 L390.1,337.4 L390.0,338.7 L390.0,339.9 L389.9,341.0 L390.0,342.1 L390.6,343.0 L390.6,343.8 L390.8,344.5" stroke="#0000ff" stroke-width="2.10"/>
<path d="M98,174.2 L106,168.6 L114,162.8 L121.5,157.4" stroke="#0000ff" stroke-width="2" stroke-dasharray="3,1.5"/>
<path d="M113.5,183.8 L117,184.2 L120.5,183.4 L123.5,180.4 L126,176.4" stroke="#ff00ff" stroke-width="1.8" stroke-dasharray="3,1.5"/>
<path d="M86.2,203.5 L86.8,203.1 L87.2,202.7 L87.8,202.3 L88.2,201.9 L88.8,201.6 L89.2,201.2 L89.8,200.8 L90.2,200.4 L90.8,200.0 L91.2,199.7 L91.8,199.3 L92.2,198.9 L92.8,198.5 L94.8,197.0 L96.8,195.5 L98.8,193.9 L100.8,192.4 L102.8,190.9 L104.8,189.4 L106.8,187.9 L108.8,186.4 L110.8,184.8 L112.8,183.3 L114.8,181.8 L116.8,180.3 L118.8,178.8 L120.8,177.3 L122.8,175.8 L124.8,174.3 L126.8,172.7 L128.8,171.2 L130.8,169.7 L132.8,168.2 L134.8,166.7 L136.8,165.2 L138.8,163.7 L140.8,162.2 L142.8,160.7 L144.8,159.2 L146.8,157.8 L148.8,156.3 L150.8,154.8 L152.8,153.3 L154.8,151.8 L156.8,150.3 L158.8,148.9 L160.8,147.4 L162.8,145.9 L164.8,144.5 L166.8,143.0 L168.8,141.6 L170.8,140.1 L172.8,138.7 L174.8,137.2 L176.8,135.8 L178.8,134.4 L180.8,132.9 L182.8,131.5 L184.8,130.1 L186.8,128.7 L188.8,127.3 L190.8,125.9 L192.8,124.5 L194.8,123.1 L196.8,121.8 L198.8,120.4 L200.8,119.1 L202.8,117.7 L204.8,116.4 L206.8,115.1 L208.8,113.8 L210.8,112.5 L212.8,111.2 L214.8,109.9 L216.8,108.7 L218.8,107.4 L220.8,106.2 L222.8,105.0 L224.8,103.9 L226.8,102.7 L228.8,101.6 L230.8,100.5 L232.8,99.4 L234.8,98.4 L236.8,97.4 L238.8,96.5 L240.8,95.5 L242.8,94.6 L244.8,93.8 L246.8,92.9 L248.8,92.1 L250.8,91.4 L252.8,90.6 L254.8,89.9 L256.8,89.3 L258.8,88.7 L260.8,88.2 L262.8,87.7 L264.8,87.3 L266.8,86.9 L268.8,86.6 L270.8,86.3 L272.8,86.1 L274.8,86.0 L276.8,85.9 L278.8,85.9 L280.8,86.0 L282.8,86.1 L284.8,86.4 L286.8,86.8 L288.8,87.2 L290.8,87.8 L292.8,88.5 L294.8,89.3 L296.8,90.3 L298.8,91.4 L300.8,92.6 L302.8,94.0 L304.8,95.6 L306.8,97.3 L308.8,99.3 L310.8,101.4 L312.8,103.7 L314.8,106.2 L316.8,109.0 L318.8,112.0 L320.8,115.2 L322.8,118.7 L324.8,122.5 L326.8,126.6 L328.8,131.1" stroke="#ff00ff" stroke-width="2.4"/>
<path d="M330.8,135.8 L332.8,140.9 L334.8,146.4 L336.7,152.2 L338.5,158.5 L340.3,165.2 L342.0,172.4 L343.8,180.0 L345.5,188.2 L347.2,196.9 L348.9,206.2 L349.3,208.6 L349.8,211.1 L350.2,213.6 L350.6,216.1 L351.0,218.7 L351.4,221.3 L351.8,223.9 L352.2,226.6 L352.7,229.4 L353.1,232.2 L353.5,235.0 L353.9,237.8 L354.3,240.8 L354.7,243.7 L355.1,246.7 L355.5,249.8 L355.9,252.9 L356.3,256.0 L356.7,259.2 L357.1,262.4 L357.6,265.7 L358.1,269.1 L358.6,272.5 L359.1,275.9 L359.6,279.4 L360.1,282.9 L360.6,286.5 L361.1,290.2 L361.6,293.9 L362.1,297.7 L362.6,301.5 L363.1,305.4 L363.6,309.3 L364.1,313.3 L364.6,317.4 L365.1,321.5 L365.6,325.7 L366.1,329.9 L366.6,334.2 L367.1,338.6 L367.6,343.0 L367.9,345.7" stroke="#ff00ff" stroke-width="2.0"/>
<path d="M86.2,204.7 L86.8,204.3 L87.2,203.9 L87.8,203.5 L88.2,203.1 L88.8,202.8 L89.2,202.4 L89.8,202.0 L90.2,201.6 L90.8,201.2 L91.2,200.9 L91.8,200.5 L92.2,200.1 L92.8,199.7 L94.8,198.2 L96.8,196.7 L98.8,195.1 L100.8,193.6 L102.8,192.1 L104.8,190.6 L106.8,189.1 L108.8,187.6 L110.8,186.0 L112.8,184.5 L114.8,183.0 L116.8,181.5 L118.8,180.0 L120.8,178.5 L122.8,177.0 L124.8,175.5 L126.8,173.9 L128.8,172.4 L130.8,170.9 L132.8,169.4 L134.8,167.9 L136.8,166.4 L138.8,164.9 L140.8,163.4 L142.8,161.9 L144.8,160.4 L146.8,159.0 L148.8,157.5 L150.8,156.0 L152.8,154.5 L154.8,153.0 L156.8,151.5 L158.8,150.1 L160.8,148.6 L162.8,147.1 L164.8,145.7 L166.8,144.2 L168.8,142.8 L170.8,141.3 L172.8,139.9 L174.8,138.4 L176.8,137.0 L178.8,135.6 L180.8,134.1 L182.8,132.7 L184.8,131.3 L186.8,129.9 L188.8,128.5 L190.8,127.1 L192.8,125.7 L194.8,124.3 L196.8,123.0 L198.8,121.6 L200.8,120.3 L202.8,118.9 L204.8,117.6 L206.8,116.3 L208.8,115.0 L210.8,113.7 L212.8,112.4 L214.8,111.1 L216.8,109.9 L218.8,108.6 L220.8,107.4 L222.8,106.2 L224.8,105.1 L226.8,103.9 L228.8,102.8 L230.8,101.6 L232.8,100.5 L234.8,99.5 L236.8,98.4 L238.8,97.4 L240.8,96.4 L242.8,95.5 L244.8,94.5 L246.8,93.6 L248.8,92.8 L250.8,92.0 L252.8,91.2 L254.8,90.4 L256.8,89.7 L258.8,89.1 L260.8,88.5 L262.8,88.0 L264.8,87.5 L266.8,87.0 L268.8,86.7 L270.8,86.4 L272.8,86.1 L274.8,86.0 L276.8,85.9 L278.8,85.9 L280.8,86.0 L282.8,86.1 L284.8,86.4 L286.8,86.8 L288.8,87.2 L290.8,87.8 L292.8,88.5 L294.8,89.3 L296.8,90.3 L298.8,91.4 L300.8,92.6 L302.8,94.0 L304.8,95.6 L306.8,97.3 L308.8,99.3 L310.8,101.4 L312.8,103.7 L314.8,106.2 L316.8,109.0 L318.8,112.0 L320.8,115.2 L322.8,118.7 L324.8,122.5 L326.8,126.6 L328.8,131.1 L330.8,135.8 L332.8,140.9 L334.8,146.4 L336.8,152.2 L338.8,158.5 L340.8,165.2 L342.8,172.4 L344.8,180.0 L346.8,188.2 L348.8,196.9 L350.8,206.2 L351.2,208.6 L351.8,211.1 L352.2,213.6 L352.8,216.1 L353.2,218.7 L353.8,221.3 L354.2,223.9 L354.8,226.6 L355.2,229.4 L355.8,232.2 L356.2,235.0 L356.8,237.8 L357.2,240.8 L357.8,243.7 L358.2,246.7 L358.8,249.8 L359.2,252.9 L359.8,256.0 L360.2,259.2 L360.8,262.4 L361.2,265.7 L361.8,269.1 L362.2,272.5 L362.8,275.9 L363.2,279.4 L363.8,282.9 L364.2,286.5 L364.8,290.2 L365.2,293.9 L365.8,297.7 L366.2,301.5 L366.8,305.4 L367.2,309.3 L367.8,313.3 L368.2,317.4 L368.8,321.5 L369.2,325.7 L369.8,329.9 L370.2,334.2 L370.8,338.6 L371.2,343.0 L371.5,345.7" stroke="#000" stroke-width="1.5" stroke-dasharray="1,1"/>
</g>
<rect x="86.2" y="21.5" width="375.6" height="324.2" fill="none" stroke="#000" stroke-width="1.3"/>
<path d="M97.3,345.7 v-2.6 M97.3,21.5 v2.6 M107.1,345.7 v-2.6 M107.1,21.5 v2.6 M115.8,345.7 v-2.6 M115.8,21.5 v2.6 M123.5,345.7 v-5.0 M123.5,21.5 v5.0 M174.5,345.7 v-2.6 M174.5,21.5 v2.6 M204.3,345.7 v-2.6 M204.3,21.5 v2.6 M225.4,345.7 v-2.6 M225.4,21.5 v2.6 M241.8,345.7 v-2.6 M241.8,21.5 v2.6 M255.2,345.7 v-2.6 M255.2,21.5 v2.6 M266.6,345.7 v-2.6 M266.6,21.5 v2.6 M276.4,345.7 v-2.6 M276.4,21.5 v2.6 M285.1,345.7 v-2.6 M285.1,21.5 v2.6 M292.8,345.7 v-5.0 M292.8,21.5 v5.0 M343.8,345.7 v-2.6 M343.8,21.5 v2.6 M373.6,345.7 v-2.6 M373.6,21.5 v2.6 M394.7,345.7 v-2.6 M394.7,21.5 v2.6 M411.1,345.7 v-2.6 M411.1,21.5 v2.6 M424.5,345.7 v-2.6 M424.5,21.5 v2.6 M435.9,345.7 v-2.6 M435.9,21.5 v2.6 M445.7,345.7 v-2.6 M445.7,21.5 v2.6 M454.4,345.7 v-2.6 M454.4,21.5 v2.6 M86.2,345.7 h5.0 M461.9,345.7 h-5.0 M86.2,326.2 h2.6 M461.9,326.2 h-2.6 M86.2,300.4 h2.6 M461.9,300.4 h-2.6 M86.2,287.1 h2.6 M461.9,287.1 h-2.6 M86.2,280.9 h5.0 M461.9,280.9 h-5.0 M86.2,261.3 h2.6 M461.9,261.3 h-2.6 M86.2,235.5 h2.6 M461.9,235.5 h-2.6 M86.2,222.3 h2.6 M461.9,222.3 h-2.6 M86.2,216.0 h5.0 M461.9,216.0 h-5.0 M86.2,196.5 h2.6 M461.9,196.5 h-2.6 M86.2,170.7 h2.6 M461.9,170.7 h-2.6 M86.2,157.5 h2.6 M461.9,157.5 h-2.6 M86.2,151.2 h5.0 M461.9,151.2 h-5.0 M86.2,131.7 h2.6 M461.9,131.7 h-2.6 M86.2,105.9 h2.6 M461.9,105.9 h-2.6 M86.2,92.6 h2.6 M461.9,92.6 h-2.6 M86.2,86.3 h5.0 M461.9,86.3 h-5.0 M86.2,66.8 h2.6 M461.9,66.8 h-2.6 M86.2,41.0 h2.6 M461.9,41.0 h-2.6 M86.2,27.8 h2.6 M461.9,27.8 h-2.6 M86.2,21.5 h5.0 M461.9,21.5 h-5.0" stroke="#000" stroke-width="1.1" fill="none"/>
<g font-family="'Liberation Serif', serif" font-size="17" fill="#303030" opacity="0.995">
<text x="49.62" y="26.40" textLength="17.96" lengthAdjust="spacingAndGlyphs">10</text>
<text x="68.32" y="19.70" textLength="6.00" lengthAdjust="spacingAndGlyphs" font-size="12">1</text>
<text x="49.62" y="91.24" textLength="17.96" lengthAdjust="spacingAndGlyphs">10</text>
<text x="68.06" y="84.54" textLength="6.00" lengthAdjust="spacingAndGlyphs" font-size="12">0</text>
<text x="39.64" y="156.08" textLength="17.73" lengthAdjust="spacingAndGlyphs">10</text>
<text x="57.32" y="149.68" textLength="9.94" lengthAdjust="spacingAndGlyphs" font-size="12">−</text>
<text x="67.62" y="149.38" textLength="6.00" lengthAdjust="spacingAndGlyphs" font-size="12">1</text>
<text x="39.64" y="220.92" textLength="17.73" lengthAdjust="spacingAndGlyphs">10</text>
<text x="57.32" y="214.52" textLength="9.94" lengthAdjust="spacingAndGlyphs" font-size="12">−</text>
<text x="67.56" y="214.22" textLength="6.00" lengthAdjust="spacingAndGlyphs" font-size="12">2</text>
<text x="39.64" y="285.76" textLength="17.73" lengthAdjust="spacingAndGlyphs">10</text>
<text x="57.32" y="279.36" textLength="9.94" lengthAdjust="spacingAndGlyphs" font-size="12">−</text>
<text x="67.37" y="279.06" textLength="6.00" lengthAdjust="spacingAndGlyphs" font-size="12">3</text>
<text x="39.64" y="350.60" textLength="17.73" lengthAdjust="spacingAndGlyphs">10</text>
<text x="57.32" y="344.20" textLength="9.94" lengthAdjust="spacingAndGlyphs" font-size="12">−</text>
<text x="67.09" y="343.90" textLength="6.00" lengthAdjust="spacingAndGlyphs" font-size="12">4</text>
<text x="114.50" y="368.30" textLength="23.01" lengthAdjust="spacingAndGlyphs">0.1</text>
<text x="290.95" y="368.30" textLength="8.24" lengthAdjust="spacingAndGlyphs">1</text>
<text x="456.09" y="368.30" textLength="17.16" lengthAdjust="spacingAndGlyphs">10</text>
<text x="144.65" y="248.80" textLength="29.30" lengthAdjust="spacingAndGlyphs">1.55</text>
<path d="M184,244.4 H215" stroke="#000" stroke-width="1.7" fill="none"/>
<text x="143.10" y="266.25" textLength="29.30" lengthAdjust="spacingAndGlyphs">3.11</text>
<path d="M184,261.9 H215" stroke="#ff0000" stroke-width="1.7" fill="none"/>
<text x="143.10" y="283.70" textLength="29.30" lengthAdjust="spacingAndGlyphs">6.21</text>
<path d="M184,279.3 H215" stroke="#00ff00" stroke-width="1.7" fill="none"/>
<text x="144.26" y="301.15" textLength="29.30" lengthAdjust="spacingAndGlyphs">12.4</text>
<path d="M184,296.8 H215" stroke="#0000ff" stroke-width="1.7" fill="none"/>
<text x="148.66" y="318.60" textLength="25.12" lengthAdjust="spacingAndGlyphs">397</text>
<path d="M184,314.2 H215" stroke="#ff00ff" stroke-width="1.7" fill="none"/>
<text x="105.14" y="336.05" textLength="68.14" lengthAdjust="spacingAndGlyphs">Gaussian</text>
<path d="M184,331.7 H215" stroke="#000" stroke-width="1.5" stroke-dasharray="1,1" fill="none"/>
<text x="95.24" y="248.80" font-style="italic" textLength="11.07" lengthAdjust="spacingAndGlyphs">S</text>
<text x="106.03" y="248.80" font-style="italic" textLength="5.47" lengthAdjust="spacingAndGlyphs">t</text>
<text x="112.36" y="251.10" textLength="7.23" lengthAdjust="spacingAndGlyphs" font-size="12">2</text>
<text x="123.77" y="248.80" textLength="15.03" lengthAdjust="spacingAndGlyphs">=</text>
<text x="107.94" y="40.20" font-style="italic" textLength="11.07" lengthAdjust="spacingAndGlyphs">S</text>
<text x="118.73" y="40.20" font-style="italic" textLength="5.47" lengthAdjust="spacingAndGlyphs">t</text>
<text x="124.65" y="42.50" textLength="5.97" lengthAdjust="spacingAndGlyphs" font-size="12">1</text>
<text x="136.47" y="40.20" textLength="15.03" lengthAdjust="spacingAndGlyphs">=</text>
<text x="154.94" y="40.20" textLength="31.05" lengthAdjust="spacingAndGlyphs">1.55</text>
<text x="342.94" y="45.60" textLength="40.95" lengthAdjust="spacingAndGlyphs">solid:</text>
<text x="390.30" y="45.60" font-style="italic" textLength="8.63" lengthAdjust="spacingAndGlyphs">r</text>
<text x="403.34" y="45.60" textLength="14.30" lengthAdjust="spacingAndGlyphs">=</text>
<text x="422.05" y="45.60" textLength="8.81" lengthAdjust="spacingAndGlyphs">1</text>
<text x="430.05" y="45.60" font-style="italic" textLength="10.42" lengthAdjust="spacingAndGlyphs">η</text>
<text x="343.01" y="70.60" textLength="57.92" lengthAdjust="spacingAndGlyphs">dashed:</text>
<text x="423.15" y="64.20" textLength="5.97" lengthAdjust="spacingAndGlyphs" font-size="12">1</text>
<text x="423.01" y="76.60" textLength="6.74" lengthAdjust="spacingAndGlyphs" font-size="12">2</text>
<path d="M423.2,65.7 H429.5" stroke="#303030" stroke-width="0.8"/>
<text x="430.05" y="70.60" font-style="italic" textLength="10.42" lengthAdjust="spacingAndGlyphs">η</text>
<path d="M263.7,382.8 V399.6 M284.2,382.8 V399.6" stroke="#303030" stroke-width="1.0" fill="none"/>
<text x="267.18" y="395.90" font-weight="bold" font-style="italic" textLength="12.95" lengthAdjust="spacingAndGlyphs" font-size="18">w</text>
<path d="M264.2,380.6 C266.5,376.6 269.5,376.4 273.2,378.4 C276.8,380.4 279.8,380.6 282.3,376.8" stroke="#303030" stroke-width="0.9" fill="none"/>
<g transform="translate(19.4,269.9) rotate(-90)">
<text x="-0.48" y="0.00" font-style="italic" textLength="13.34" lengthAdjust="spacingAndGlyphs" font-size="18.8">P</text>
<text x="13.06" y="-0.30" textLength="5.58" lengthAdjust="spacingAndGlyphs" font-size="21">(</text>
<text x="23.48" y="0.00" font-weight="bold" font-style="italic" textLength="13.65" lengthAdjust="spacingAndGlyphs" font-size="19">w</text>
<text x="47.70" y="0.00" font-style="italic" textLength="13.95" lengthAdjust="spacingAndGlyphs" font-size="19">w</text>
<text x="61.57" y="2.90" textLength="5.47" lengthAdjust="spacingAndGlyphs" font-size="12">r</text>
<text x="73.17" y="0.00" textLength="12.85" lengthAdjust="spacingAndGlyphs" font-size="17.5">&lt;</text>
<text x="89.97" y="0.00" textLength="9.56" lengthAdjust="spacingAndGlyphs" font-size="17.5">0</text>
<text x="99.87" y="0.00" textLength="4.46" lengthAdjust="spacingAndGlyphs" font-size="17.5">;</text>
<text x="107.84" y="0.00" font-style="italic" textLength="11.22" lengthAdjust="spacingAndGlyphs" font-size="18.8">S</text>
<text x="118.21" y="0.00" font-style="italic" textLength="6.89" lengthAdjust="spacingAndGlyphs" font-size="18.8">t</text>
<text x="125.95" y="2.60" textLength="5.97" lengthAdjust="spacingAndGlyphs" font-size="12">1</text>
<text x="131.68" y="0.00" textLength="4.70" lengthAdjust="spacingAndGlyphs" font-size="17.5">,</text>
<text x="139.73" y="0.00" font-style="italic" textLength="11.65" lengthAdjust="spacingAndGlyphs" font-size="18.8">S</text>
<text x="150.43" y="0.00" font-style="italic" textLength="6.78" lengthAdjust="spacingAndGlyphs" font-size="18.8">t</text>
<text x="158.25" y="2.60" textLength="7.36" lengthAdjust="spacingAndGlyphs" font-size="12">2</text>
<text x="166.22" y="-0.30" textLength="5.96" lengthAdjust="spacingAndGlyphs" font-size="21">)</text>
<path d="M21.2,-13.9 V4.3 M42.6,-13.9 V4.3 M46.3,-13.9 V4.3" stroke="#303030" stroke-width="1.0" fill="none"/>
<path d="M23.5,-16.0 C26,-19.0 29.5,-18.8 32.5,-17.4 C35.5,-16.0 38.5,-16.0 40.8,-18.8" stroke="#303030" stroke-width="0.9" fill="none"/>
</g>
</g>
</svg>
</body></html>
